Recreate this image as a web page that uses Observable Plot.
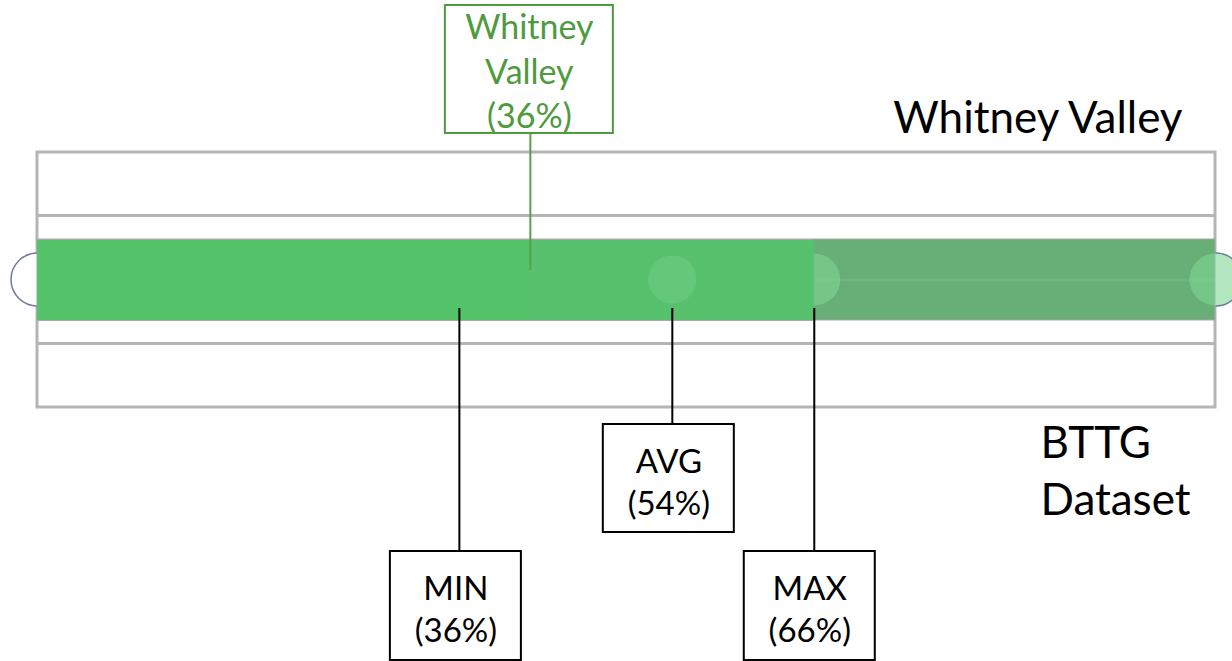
<!DOCTYPE html>
<html><head><meta charset="utf-8">
<script src="https://cdn.jsdelivr.net/npm/d3@7"></script>
<script src="https://cdn.jsdelivr.net/npm/@observablehq/plot@0.6"></script>
<style>body{margin:0;background:#fff;} svg{display:block;}</style>
</head><body><div id="chart"></div>
<script>
// ---- data ----
const statNames = ["MIN", "AVG", "MAX"];
const statValues = [36, 54, 66];
const siteName = "Whitney Valley";
const siteLabelValue = 36;
const sitePosition = 42;
const segStarts = [0, 42, 66];
const segEnds = [42, 66, 100];
const segColors = ["#55c36a", "#58c16d", "#68ae77"];
const datasetName = "BTTG\nDataset";

// ---- layout ----
const W = 1232, H = 661;
const R0 = 33, R1 = 1216;
const pxPerUnit = (R1 - R0) / 100;
const u = px => px / pxPerUnit;          // pixel length -> units
const px = p => (p - R0) / pxPerUnit;    // pixel position -> units
const FL = px(37), FR = px(1215);        // frame edges
const boxHalf = u(65.5);
const statBoxTop = [551, 424, 551];
const statBoxBottom = [660, 532, 660];
const statBoxShift = [-3.5, -3.5, -4.5];

const stats = statNames.map((n, i) => ({
  name: n, value: statValues[i],
  cx: statValues[i] + u(statBoxShift[i]),
  top: statBoxTop[i], bottom: statBoxBottom[i],
  label: `${n}\n(${statValues[i]}%)`
}));
const segs = segStarts.map((s, i) => ({s: i === 0 ? FL : s, e: i === 2 ? FR : segEnds[i], c: segColors[i]}));

const chart = Plot.plot({
  width: W, height: H,
  margin: 0,
  x: {domain: [0, 100], range: [R0, R1], axis: null},
  y: {domain: [0, H], range: [0, H], axis: null},
  style: {fontFamily: "Lato, 'Open Sans', sans-serif", background: "#fff"},
  marks: [
    Plot.rect([0], {x1: FL, x2: FR, y1: 152, y2: 407, stroke: "#b5b5b5", strokeWidth: 3, fill: "none"}),
    Plot.ruleY([215, 343], {x1: FL, x2: FR, stroke: "#b5b5b5", strokeWidth: 3}),
    Plot.dot([FL, FR], {x: d => d, y: 279, r: 26.5, fill: "#fff", stroke: "#6d7b98", strokeWidth: 1.5}),
    Plot.rect([segs[2]], {x1: FL, x2: d => d.e, y1: 239, y2: 320, fill: d => d.c, stroke: "#a9a9a9", strokeWidth: 1}),
    Plot.ruleY([279.5], {x1: segStarts[2], x2: FR, stroke: "#72c080", strokeWidth: 3, strokeOpacity: 0.6}),
    Plot.dot([statValues[2], FR], {x: d => d, y: 279, r: 26, fill: "#7fd593", fillOpacity: 0.6}),
    Plot.rect(segs.slice(0, 2), {x1: "s", x2: "e", y1: 239, y2: 320, fill: "c"}),
    Plot.ruleY([239], {x1: FL, x2: segEnds[1], stroke: "#a9a9a9", strokeWidth: 1}),
    Plot.ruleY([320], {x1: FL, x2: segEnds[1], stroke: "#a9a9a9", strokeWidth: 1}),
    Plot.dot([statValues[1]], {x: d => d, y: 279, r: 24, fill: "#7fd593", fillOpacity: 0.35}),
    // site annotation
    Plot.ruleX([sitePosition], {y1: 133, y2: 270, stroke: "#5aa04a", strokeWidth: 2}),
    Plot.rect([sitePosition], {x1: d => d - u(85), x2: d => d + u(83), y1: 5, y2: 133, fill: "#fff", stroke: "#4e9a3e", strokeWidth: 2}),
    Plot.text([`Whitney\nValley\n(${siteLabelValue}%)`], {x: sitePosition - u(1), y: 69, text: d => d, fill: "#4e9a3e", fontSize: 34, lineHeight: 1.3, lineAnchor: "middle"}),
    // stats annotations
    Plot.ruleX(stats, {x: "value", y1: 308, y2: "top", stroke: "#000", strokeWidth: 2}),
    Plot.rect(stats, {x1: d => d.cx - boxHalf, x2: d => d.cx + boxHalf, y1: "top", y2: "bottom", fill: "#fff", stroke: "#000", strokeWidth: 2}),
    Plot.text(stats, {x: "cx", y: d => (d.top + d.bottom) / 2 + 2, text: "label", fill: "#000", fontSize: 33, lineHeight: 1.27, lineAnchor: "middle"}),
    // side labels
    Plot.text([siteName], {x: px(1182), y: 118, text: d => d, textAnchor: "end", fill: "#000", fontSize: 44, lineAnchor: "middle"}),
    Plot.text([datasetName], {x: px(1040), y: 468, text: d => d, textAnchor: "start", fill: "#000", fontSize: 44, lineHeight: 1.3, lineAnchor: "middle"})
  ]
});
document.getElementById("chart").append(chart);
</script>
</body></html>
